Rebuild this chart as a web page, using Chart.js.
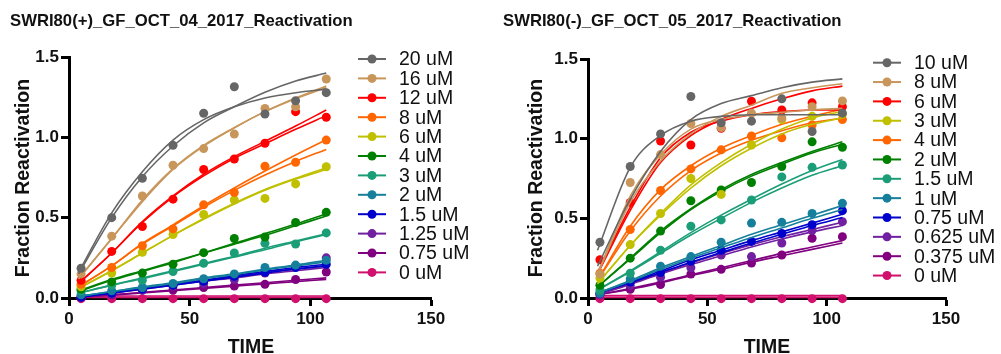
<!DOCTYPE html>
<html>
<head>
<meta charset="utf-8">
<script src="https://cdn.jsdelivr.net/npm/chart.js@4.4.0/dist/chart.umd.min.js"></script>
<style>
    body { margin: 0; background: #fff; width: 1001px; height: 354px; overflow: hidden; position: relative; }
    canvas { position: absolute; top: 0; }
    #leftChart { left: 0; }
    #rightChart { left: 500px; }
</style>
</head>
<body>
<canvas id="leftChart" width="500" height="354"></canvas>
<canvas id="rightChart" width="501" height="354"></canvas>
<script>
// sampling times (min)
const times = [5, 17.7, 30.4, 43.1, 55.8, 68.5, 81.2, 93.9, 106.6];
const fitTimes = [4, 17.7, 30.4, 43.1, 55.8, 68.5, 81.2, 93.9, 106.6];

const xTicks = [0, 50, 100, 150];
const yTicks = [0, 0.5, 1.0, 1.5];

// ---- left panel: SWRI80(+)
const leftTitle = "SWRI80(+)_GF_OCT_04_2017_Reactivation";
const leftLabels = ["20 uM", "16 uM", "12 uM", "8 uM", "6 uM", "4 uM", "3 uM", "2 uM", "1.5 uM", "1.25 uM", "0.75 uM", "0 uM"];
const leftColors = ["#666666", "#c8965a", "#ff0000", "#ff6600", "#c0c000", "#008000", "#1b9e77", "#16809c", "#0000cc", "#7020a0", "#800080", "#d0106c"];

const leftPoints = [
    [0.185, 0.50, 0.745, 0.95, 1.15, 1.315, 1.145, 1.228, 1.278],
    [0.15, 0.385, 0.635, 0.826, 0.93, 1.02, 1.18, 1.19, 1.363],
    [0.11, 0.29, 0.445, 0.615, 0.80, 0.865, 0.963, 1.16, 1.125],
    [0.085, 0.19, 0.325, 0.43, 0.58, 0.656, 0.82, 0.845, 0.983],
    [0.07, 0.155, 0.285, 0.395, 0.52, 0.61, 0.62, 0.71, 0.817],
    [0.055, 0.10, 0.155, 0.21, 0.282, 0.37, 0.38, 0.47, 0.533],
    [0.045, 0.08, 0.11, 0.165, 0.216, 0.28, 0.34, 0.336, 0.405],
    [0.02, 0.045, 0.065, 0.09, 0.12, 0.15, 0.19, 0.205, 0.235],
    [0.005, 0.03, 0.055, 0.08, 0.105, 0.135, 0.16, 0.19, 0.21],
    [0.01, 0.025, 0.05, 0.075, 0.09, 0.115, 0.155, 0.20, 0.25],
    [0.005, 0.02, 0.05, 0.05, 0.065, 0.075, 0.085, 0.115, 0.162],
    [-0.004, -0.004, -0.004, -0.004, -0.004, -0.004, -0.004, -0.004, -0.004]
];
const leftFitA = [
    [0.15, 0.50, 0.755, 0.946, 1.09, 1.19, 1.28, 1.35, 1.40],
    [0.12, 0.37, 0.61, 0.805, 0.95, 1.06, 1.16, 1.24, 1.31],
    [0.09, 0.28, 0.475, 0.635, 0.77, 0.88, 0.975, 1.07, 1.17],
    [0.07, 0.20, 0.34, 0.455, 0.575, 0.685, 0.79, 0.89, 0.985],
    [0.06, 0.17, 0.28, 0.39, 0.495, 0.59, 0.675, 0.745, 0.81],
    [0.04, 0.11, 0.165, 0.22, 0.28, 0.34, 0.40, 0.46, 0.525],
    [0.03, 0.08, 0.125, 0.17, 0.215, 0.26, 0.31, 0.355, 0.40],
    [0.01, 0.04, 0.07, 0.095, 0.125, 0.15, 0.18, 0.205, 0.235],
    [0.005, 0.035, 0.06, 0.085, 0.11, 0.14, 0.165, 0.19, 0.21],
    [0.01, 0.035, 0.06, 0.085, 0.11, 0.135, 0.16, 0.18, 0.20],
    [0.005, 0.02, 0.035, 0.05, 0.065, 0.08, 0.095, 0.11, 0.125],
    [0.012, 0.012, 0.012, 0.012, 0.012, 0.012, 0.012, 0.012, 0.012]
];
const leftFitB = [
    [0.16, 0.53, 0.786, 0.983, 1.11, 1.19, 1.245, 1.278, 1.30],
    [0.12, 0.37, 0.60, 0.80, 0.945, 1.06, 1.16, 1.245, 1.32],
    [0.09, 0.28, 0.47, 0.63, 0.76, 0.87, 0.96, 1.05, 1.135],
    [0.07, 0.20, 0.335, 0.45, 0.565, 0.67, 0.765, 0.85, 0.925],
    [0.06, 0.17, 0.28, 0.39, 0.49, 0.585, 0.67, 0.74, 0.80],
    [0.045, 0.115, 0.17, 0.225, 0.28, 0.335, 0.39, 0.45, 0.51],
    [0.03, 0.08, 0.12, 0.165, 0.21, 0.255, 0.30, 0.35, 0.395],
    [0.01, 0.04, 0.065, 0.09, 0.12, 0.145, 0.175, 0.20, 0.225],
    [0.005, 0.03, 0.055, 0.08, 0.105, 0.13, 0.155, 0.18, 0.20],
    [0.01, 0.03, 0.055, 0.08, 0.105, 0.125, 0.15, 0.17, 0.19],
    [0.005, 0.018, 0.032, 0.046, 0.06, 0.074, 0.088, 0.102, 0.116],
    [0.004, 0.004, 0.004, 0.004, 0.004, 0.004, 0.004, 0.004, 0.004]
];

// ---- right panel: SWRI80(-)
const rightTitle = "SWRI80(-)_GF_OCT_05_2017_Reactivation";
const rightLabels = ["10 uM", "8 uM", "6 uM", "3 uM", "4 uM", "2 uM", "1.5 uM", "1 uM", "0.75 uM", "0.625 uM", "0.375 uM", "0 uM"];
const rightColors = ["#666666", "#c8965a", "#ff0000", "#c0c000", "#ff6600", "#008000", "#1b9e77", "#16809c", "#0000cc", "#7020a0", "#800080", "#d0106c"];

const rightPoints = [
    [0.35, 0.825, 1.03, 1.265, 1.10, 1.11, 1.25, 1.045, 1.16],
    [0.15, 0.725, 0.90, 1.095, 1.07, 1.16, 1.13, 1.20, 1.237],
    [0.24, 0.60, 0.985, 0.96, 1.065, 1.235, 1.18, 1.225, 1.20],
    [0.125, 0.335, 0.53, 0.75, 0.65, 0.96, 1.12, 1.14, 1.155],
    [0.155, 0.43, 0.675, 0.81, 0.93, 1.017, 1.005, 1.086, 1.12],
    [0.08, 0.25, 0.42, 0.61, 0.678, 0.725, 0.825, 0.98, 0.946],
    [0.05, 0.155, 0.30, 0.45, 0.49, 0.615, 0.76, 0.82, 0.835],
    [0.03, 0.12, 0.20, 0.26, 0.35, 0.47, 0.475, 0.53, 0.594],
    [0.03, 0.10, 0.16, 0.23, 0.30, 0.355, 0.405, 0.46, 0.548],
    [0.02, 0.08, 0.13, 0.19, 0.27, 0.26, 0.345, 0.425, 0.479],
    [0.02, 0.055, 0.085, 0.15, 0.18, 0.22, 0.27, 0.375, 0.385],
    [-0.004, -0.004, -0.004, -0.004, -0.004, -0.004, -0.004, -0.004, -0.004]
];
const rightFitA = [
    [0.20, 0.62, 0.92, 1.12, 1.22, 1.27, 1.32, 1.355, 1.375],
    [0.15, 0.60, 0.86, 1.03, 1.14, 1.21, 1.285, 1.32, 1.345],
    [0.15, 0.55, 0.85, 1.02, 1.12, 1.19, 1.25, 1.30, 1.33],
    [0.09, 0.33, 0.53, 0.71, 0.85, 0.965, 1.06, 1.13, 1.17],
    [0.11, 0.45, 0.68, 0.83, 0.94, 1.02, 1.09, 1.14, 1.185],
    [0.07, 0.25, 0.42, 0.56, 0.68, 0.775, 0.85, 0.92, 0.98],
    [0.05, 0.17, 0.29, 0.41, 0.52, 0.62, 0.715, 0.80, 0.87],
    [0.03, 0.11, 0.19, 0.26, 0.33, 0.40, 0.46, 0.52, 0.58],
    [0.03, 0.10, 0.17, 0.24, 0.30, 0.36, 0.415, 0.47, 0.525],
    [0.02, 0.09, 0.155, 0.22, 0.28, 0.335, 0.385, 0.43, 0.475],
    [0.02, 0.06, 0.10, 0.145, 0.19, 0.235, 0.28, 0.32, 0.36],
    [0.015, 0.015, 0.015, 0.015, 0.015, 0.015, 0.015, 0.015, 0.015]
];
const rightFitB = [
    [0.30, 0.82, 1.02, 1.11, 1.14, 1.15, 1.15, 1.15, 1.15],
    [0.15, 0.64, 0.90, 1.06, 1.12, 1.15, 1.165, 1.18, 1.19],
    [0.16, 0.57, 0.88, 1.04, 1.11, 1.15, 1.17, 1.18, 1.18],
    [0.09, 0.33, 0.52, 0.69, 0.83, 0.94, 1.03, 1.09, 1.13],
    [0.11, 0.42, 0.64, 0.80, 0.91, 0.99, 1.05, 1.10, 1.13],
    [0.07, 0.245, 0.41, 0.555, 0.67, 0.765, 0.84, 0.91, 0.965],
    [0.05, 0.165, 0.28, 0.395, 0.50, 0.60, 0.69, 0.77, 0.83],
    [0.03, 0.105, 0.18, 0.25, 0.315, 0.38, 0.44, 0.50, 0.555],
    [0.03, 0.095, 0.16, 0.225, 0.285, 0.345, 0.40, 0.455, 0.505],
    [0.02, 0.085, 0.15, 0.21, 0.265, 0.32, 0.37, 0.415, 0.455],
    [0.02, 0.055, 0.095, 0.14, 0.18, 0.225, 0.265, 0.305, 0.345],
    [0.004, 0.004, 0.004, 0.004, 0.004, 0.004, 0.004, 0.004, 0.004]
];

const FONT = '"Liberation Sans", Arial, Helvetica, sans-serif';
Chart.defaults.font.family = FONT;

// titles, axis titles and the line+dot legend on the right
const panelDecor = {
    id: "panelDecor",
    afterDraw(chart, args, o) {
        const ctx = chart.ctx;
        ctx.save();
        ctx.fillStyle = "#111";
        ctx.font = "bold 16.7px " + FONT;
        ctx.textAlign = "left";
        ctx.textBaseline = "alphabetic";
        ctx.fillText(o.title, o.titleX, 26);

        ctx.font = "bold 19.5px " + FONT;
        ctx.textAlign = "center";
        ctx.fillText("TIME", o.timeX, 353);

        ctx.save();
        ctx.translate(o.yTitleX, 178);
        ctx.rotate(-Math.PI / 2);
        ctx.textBaseline = "middle";
        ctx.fillText("Fraction Reactivation", 0, 0);
        ctx.restore();

        ctx.font = "19.5px " + FONT;
        ctx.textAlign = "left";
        ctx.textBaseline = "middle";
        o.labels.forEach((lab, i) => {
            const y = o.legY + i * o.legDy;
            ctx.strokeStyle = o.colors[i];
            ctx.lineWidth = 2;
            ctx.beginPath();
            ctx.moveTo(o.legX, y);
            ctx.lineTo(o.legX + 28, y);
            ctx.stroke();
            ctx.fillStyle = o.colors[i];
            ctx.beginPath();
            ctx.arc(o.legX + 14, y, 4.5, 0, Math.PI * 2);
            ctx.fill();
            ctx.fillStyle = "#111";
            ctx.fillText(lab, o.legX + 41, y + 1);
        });
        ctx.restore();
    }
};

function buildDatasets(labels, colors, points, fitA, fitB) {
    const sets = [];
    labels.forEach((lab, i) => {
        sets.push({
            label: lab,
            data: points[i].map((y, j) => ({ x: times[j], y: y })),
            showLine: false,
            pointRadius: 4.5,
            pointHoverRadius: 4.5,
            pointBorderWidth: 0,
            pointBackgroundColor: colors[i],
            borderColor: colors[i],
            clip: false
        });
        [fitA, fitB].forEach(fit => {
            sets.push({
                label: lab + " fit",
                data: fit[i].map((y, j) => ({ x: fitTimes[j], y: y })),
                borderColor: colors[i],
                borderWidth: 1.6,
                pointRadius: 0,
                cubicInterpolationMode: "monotone",
                fill: false,
                clip: false
            });
        });
    });
    return sets;
}

function makePanel(id, p) {
    const tickFont = { size: 17, weight: "bold", family: FONT };
    new Chart(document.getElementById(id), {
        type: "line",
        data: { datasets: buildDatasets(p.labels, p.colors, p.points, p.fitA, p.fitB) },
        plugins: [panelDecor],
        options: {
            responsive: false,
            animation: false,
            events: [],
            layout: { padding: { left: 0, top: p.top, right: p.right, bottom: 0 } },
            plugins: {
                legend: { display: false },
                tooltip: { enabled: false },
                panelDecor: p.decor
            },
            scales: {
                x: {
                    type: "linear",
                    min: 0,
                    max: 150,
                    afterFit: s => { s.height = 56; },
                    afterBuildTicks: s => { s.ticks = xTicks.map(v => ({ value: v })); },
                    ticks: { padding: 3, color: "#111", font: tickFont, maxRotation: 0 },
                    grid: { drawOnChartArea: false, tickLength: 8, tickWidth: 3, tickColor: "#000" },
                    border: { width: 3, color: "#000" }
                },
                y: {
                    type: "linear",
                    min: 0,
                    max: 1.5,
                    afterFit: s => { s.width = p.axisLeft; },
                    afterBuildTicks: s => { s.ticks = yTicks.map(v => ({ value: v })); },
                    ticks: { padding: 2, color: "#111", font: tickFont, callback: v => v.toFixed(1) },
                    grid: { drawOnChartArea: false, tickLength: 8, tickWidth: 3, tickColor: "#000" },
                    border: { width: 3, color: "#000" }
                }
            }
        }
    });
}

makePanel("leftChart", {
    labels: leftLabels, colors: leftColors,
    points: leftPoints, fitA: leftFitA, fitB: leftFitB,
    top: 57, right: 69, axisLeft: 69,
    decor: {
        title: leftTitle, titleX: 10, timeX: 251, yTitleX: 24,
        labels: leftLabels, colors: leftColors,
        legX: 358, legY: 59, legDy: 19.4
    }
});

makePanel("rightChart", {
    labels: rightLabels, colors: rightColors,
    points: rightPoints, fitA: rightFitA, fitB: rightFitB,
    top: 59, right: 55, axisLeft: 88,
    decor: {
        title: rightTitle, titleX: 3, timeX: 267, yTitleX: 37,
        labels: rightLabels, colors: rightColors,
        legX: 373, legY: 62.7, legDy: 19.35
    }
});
</script>
</body>
</html>
